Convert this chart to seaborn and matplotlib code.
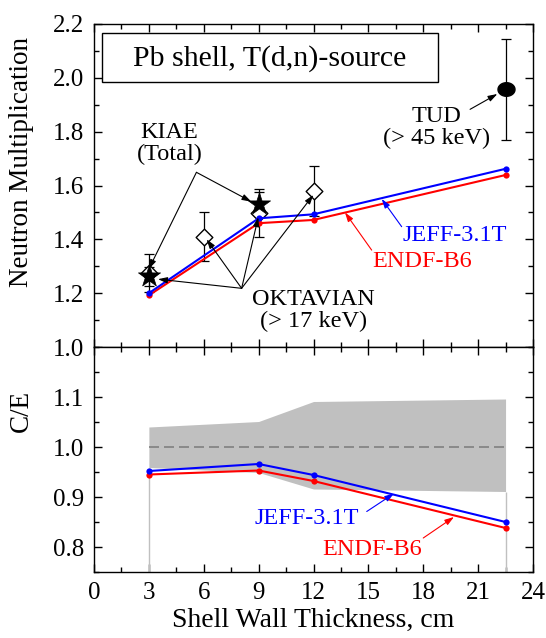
import numpy as np
import pandas as pd
import matplotlib
matplotlib.use("Agg")
import matplotlib.pyplot as plt
import seaborn as sns
from matplotlib.path import Path
from matplotlib.patches import Rectangle
from matplotlib.ticker import MultipleLocator, FixedLocator, FormatStrFormatter

# Shell wall thickness of the calculated points, cm
thickness = [3, 9, 12, 22.5]

# Calculated neutron multiplication
jeff_mult = [1.200, 1.478, 1.493, 1.662]
endf_mult = [1.192, 1.460, 1.472, 1.639]

# Calculation / experiment ratios
jeff_ce = [0.952, 0.966, 0.944, 0.850]
endf_ce = [0.945, 0.953, 0.932, 0.838]

# Experimental uncertainty corridor around C/E = 1
band_hi = [1.040, 1.051, 1.091, 1.096]
band_lo = [0.959, 0.949, 0.916, 0.911]

# Measurements
kiae_x = [3, 9]
kiae_y = [1.263, 1.530]
kiae_err = [0.035, 0.045]

okt_x = [3, 6, 9, 12]
okt_y = [1.275, 1.410, 1.498, 1.578]
okt_err = [0.070, 0.090, 0.088, 0.093]

tud_x = [22.5]
tud_y = [1.957]
tud_err = [0.187]

lib_names = ["ENDF-B6", "JEFF-3.1T"]
lib_colors = {"ENDF-B6": "#ff0000", "JEFF-3.1T": "#0000ff"}

calc = pd.DataFrame({
    "thickness": thickness * 2,
    "mult": endf_mult + jeff_mult,
    "ce": endf_ce + jeff_ce,
    "library": [lib_names[0]] * 4 + [lib_names[1]] * 4,
})

sns.set_theme(style="ticks", rc={
    "axes.edgecolor": "black",
    "axes.linewidth": 1.0,
    "xtick.color": "black",
    "ytick.color": "black",
    "text.color": "black",
    "axes.labelcolor": "black",
})
plt.rcParams["font.family"] = ["Liberation Serif", "DejaVu Serif"]

W, H = 546, 638
fig = plt.figure(figsize=(W / 100, H / 100), dpi=100)
L, R = 94, 533
ax1 = fig.add_axes([L / W, 1 - 347 / H, (R - L) / W, 323 / H])
ax2 = fig.add_axes([L / W, 1 - 572 / H, (R - L) / W, 225 / H])

TICK_FS = 18
for ax in (ax1, ax2):
    ax.set_xlim(0, 24)
    ax.xaxis.set_major_locator(MultipleLocator(3))
    ax.xaxis.set_minor_locator(MultipleLocator(1.5))
    ax.tick_params(which="both", direction="in", top=True, right=True,
                   labelsize=TICK_FS, width=1.0, color="black")
    ax.tick_params(which="major", length=6, pad=7)
    ax.tick_params(which="minor", length=3.5)
    for sp in ax.spines.values():
        sp.set_linewidth(1.0)
        sp.set_color("black")

# ---------------- upper panel: neutron multiplication ----------------
ax1.set_ylim(1.0, 2.2)
ax1.yaxis.set_major_locator(MultipleLocator(0.2))
ax1.yaxis.set_minor_locator(MultipleLocator(0.1))
ax1.yaxis.set_major_formatter(FormatStrFormatter("%.1f"))
ax1.tick_params(labelbottom=False)

err_kw = dict(fmt="none", ecolor="black", elinewidth=0.9, capsize=3.5,
              capthick=0.9, zorder=2)
ax1.errorbar(okt_x, okt_y, yerr=okt_err, **err_kw)
ax1.errorbar(kiae_x, kiae_y, yerr=kiae_err, **err_kw)
ax1.errorbar(tud_x, tud_y, yerr=tud_err, **err_kw)

sns.scatterplot(x=okt_x, y=okt_y, marker="D", s=72, color="white",
                edgecolor="black", linewidth=1.0, ax=ax1, zorder=3,
                legend=False)

sns.lineplot(data=calc, x="thickness", y="mult", hue="library",
             palette=lib_colors, hue_order=lib_names, marker="o",
             markersize=4.5, markeredgewidth=0, linewidth=1.5,
             ax=ax1, legend=False, zorder=4)

sns.scatterplot(x=kiae_x, y=kiae_y, marker="*", s=280, color="black",
                edgecolor="black", linewidth=0.5, ax=ax1, zorder=5,
                legend=False)

t = np.linspace(0, 2 * np.pi, 80)
ellipse = Path(np.column_stack([np.cos(t), 0.8 * np.sin(t)]), closed=True)
sns.scatterplot(x=tud_x, y=tud_y, marker=ellipse, s=150, color="black",
                edgecolor="black", ax=ax1, zorder=5, legend=False)

ax1.set_xlabel("")
ax1.set_ylabel("Neutron Multiplication", fontsize=19.5)
ax1.yaxis.set_label_coords(-0.137, 0.573)

# title box
ax1.add_patch(Rectangle((0.019, 0.8195), 0.7654, 0.1536,
                        transform=ax1.transAxes, fill=False,
                        edgecolor="black", linewidth=1.0, zorder=6))
ax1.text(0.401, 0.893, "Pb shell, T(d,n)-source", transform=ax1.transAxes,
         ha="center", va="center", fontsize=21.5, zorder=7)

arrow_kw = dict(arrowstyle="-|>,head_length=0.55,head_width=0.18",
                color="black", lw=0.8, shrinkA=0, shrinkB=0,
                mutation_scale=10)

def pointer(ax, tip, origin, color="black"):
    kw = dict(arrow_kw)
    kw["color"] = color
    ax.annotate("", xy=tip, xytext=origin, arrowprops=kw, zorder=6)

LBL_FS = 17.5
ax1.text(4.12, 1.755, "KIAE\n(Total)", ha="center", va="center",
         fontsize=LBL_FS, linespacing=1.05)
pointer(ax1, (3.0, 1.29), (5.6, 1.649))
pointer(ax1, (8.6, 1.54), (5.6, 1.649))

ax1.text(12.0, 1.137, "OKTAVIAN\n(> 17 keV)", ha="center", va="center",
         fontsize=LBL_FS, linespacing=1.05)
okt_origin = (8.07, 1.218)
pointer(ax1, (3.5, 1.252), okt_origin)
pointer(ax1, (6.16, 1.40), okt_origin)
pointer(ax1, (8.98, 1.482), okt_origin)
pointer(ax1, (11.99, 1.565), okt_origin)

ax1.text(18.75, 1.817, "TUD\n(> 45 keV)", ha="center", va="center",
         fontsize=LBL_FS, linespacing=1.05)
pointer(ax1, (22.05, 1.94), (20.56, 1.883))

ax1.text(19.74, 1.416, "JEFF-3.1T", ha="center", va="center",
         fontsize=LBL_FS, color=lib_colors["JEFF-3.1T"])
pointer(ax1, (15.73, 1.55), (16.82, 1.447), lib_colors["JEFF-3.1T"])
ax1.text(17.92, 1.317, "ENDF-B6", ha="center", va="center",
         fontsize=LBL_FS, color=lib_colors["ENDF-B6"])
pointer(ax1, (13.72, 1.50), (15.18, 1.36), lib_colors["ENDF-B6"])

# ---------------- lower panel: C/E ----------------
ax2.set_ylim(0.75, 1.2)
ax2.yaxis.set_major_locator(FixedLocator([0.8, 0.9, 1.0, 1.1]))
ax2.yaxis.set_minor_locator(MultipleLocator(0.05))
ax2.yaxis.set_major_formatter(FormatStrFormatter("%.1f"))

ax2.fill_between(thickness, band_lo, band_hi, color="#c0c0c0",
                 linewidth=0, zorder=1)
ax2.vlines([thickness[0], thickness[-1]], 0.75, [band_lo[0], band_lo[-1]],
           color="#c0c0c0", linewidth=1.0, zorder=1)
ax2.plot([thickness[0], thickness[-1]], [1.0, 1.0], color="#808080",
         linestyle=(0, (6, 3)), linewidth=1.2, zorder=2)

sns.lineplot(data=calc, x="thickness", y="ce", hue="library",
             palette=lib_colors, hue_order=lib_names, marker="o",
             markersize=4.5, markeredgewidth=0, linewidth=1.5,
             ax=ax2, legend=False, zorder=4)

ax2.text(11.63, 0.856, "JEFF-3.1T", ha="center", va="center",
         fontsize=LBL_FS, color=lib_colors["JEFF-3.1T"])
pointer(ax2, (16.4, 0.907), (14.91, 0.871), lib_colors["JEFF-3.1T"])
ax2.text(15.18, 0.795, "ENDF-B6", ha="center", va="center",
         fontsize=LBL_FS, color=lib_colors["ENDF-B6"])
pointer(ax2, (19.68, 0.86), (18.0, 0.818), lib_colors["ENDF-B6"])

ax2.set_ylabel("C/E", fontsize=19.5)
ax2.yaxis.set_label_coords(-0.137, 0.716)
ax2.set_xlabel("Shell Wall Thickness, cm", fontsize=20)
ax2.xaxis.set_label_coords(0.5, -0.16)

fig.savefig("out.png", dpi=100)
